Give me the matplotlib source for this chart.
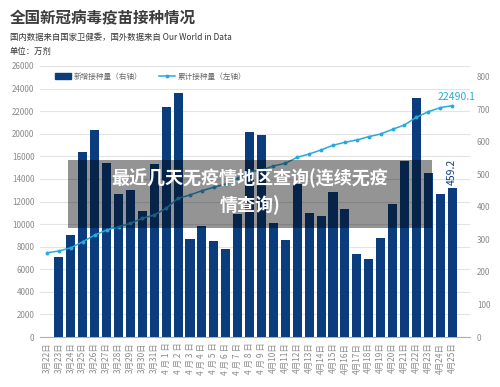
import numpy as np
import matplotlib
matplotlib.use("Agg")
import matplotlib.pyplot as plt
from matplotlib.patches import Rectangle
from matplotlib.lines import Line2D

plt.rcParams['font.family'] = ['Noto Sans CJK SC', 'DejaVu Sans']

dates = ["3月22日", "3月23日", "3月24日", "3月25日", "3月26日", "3月27日", "3月28日",
         "3月29日", "3月30日", "3月31日", "4 月 1 日", "4 月 2 日", "4 月 3 日", "4 月 4 日",
         "4 月 5 日", "4 月 6 日", "4 月 7 日", "4 月 8 日", "4 月 9 日", "4月10日", "4月11日",
         "4月12日", "4月13日", "4月14日", "4月15日", "4月16日", "4月17日", "4月18日",
         "4月19日", "4月20日", "4月21日", "4月22日", "4月23日", "4月24日", "4月25日"]

# 新增接种量（万剂，右轴）; 3月22日 无柱
daily = [np.nan, 246, 313, 569, 636, 535, 439, 451, 387, 532, 706, 749, 300, 341, 294,
         270, 378, 631, 621, 351, 297, 470, 382, 372, 446, 395, 256, 241, 303, 410,
         542, 734, 504, 439, 459.2]

# 累计接种量（万剂，左轴）
cumulative = [7466, 7617, 7910, 8441, 9034, 9477, 9770, 10071, 10514, 10806, 11400,
              12285, 12578, 12959, 13260, 13552, 14057, 14641, 14792, 15146, 15385,
              15917, 16420, 17128, 17960, 18492, 18900, 19484, 19960, 20396, 20778,
              21460, 21956, 22310, 22490.1]

# left axis labels as printed on the original chart (evenly spaced)
left_ticks = [0, 2000, 4000, 6000, 8000, 10000, 12000, 14000, 16000, 20000, 22000, 24000, 26000]
right_ticks = [0, 100, 200, 300, 400, 500, 600, 700, 800]

NAVY = "#0b3d7e"
BLUE = "#2aa9dc"
GRAY = "#8a8a8a"

idx = np.arange(len(left_ticks))
fwd = lambda v: np.interp(v, left_ticks, idx)
inv = lambda k: np.interp(k, idx, left_ticks)

fig = plt.figure(figsize=(5, 3.87), dpi=100)
ax = fig.add_axes([0.08, 0.129, 0.86, 0.7005])
axb = ax.twinx()
axl = ax.twinx()

x = np.arange(len(dates))

# grid + left ticks
ax.set_yscale("function", functions=(fwd, inv))
ax.set_ylim(0, 26000)
ax.set_yticks(left_ticks)
ax.set_yticklabels([str(t) for t in left_ticks])
ax.grid(axis="y", color="#e3e3e3", lw=0.8)
ax.tick_params(axis="y", length=0, labelsize=5.8, labelcolor=GRAY, pad=4)
ax.set_xlim(-0.59, 35.5)
ax.set_xticks(x)
ax.set_xticklabels(dates, rotation=90, fontsize=6, color=GRAY, va="top")
ax.tick_params(axis="x", length=0, pad=4)

# bars on right axis
axb.bar(x, daily, width=0.76, color=NAVY, zorder=2)
axb.set_ylim(0, 833)
axb.set_yticks(right_ticks)
axb.tick_params(axis="y", length=0, labelsize=5.8, labelcolor=GRAY, pad=5)
axb.text(x[-1], daily[-1] + 8, "459.2", rotation=90, ha="center", va="bottom",
         fontsize=7.5, color=NAVY)

# cumulative line on left scale
axl.set_yscale("function", functions=(fwd, inv))
axl.set_ylim(0, 26000)
axl.plot(x, cumulative, color=BLUE, lw=1.1, marker="o", ms=1.8, zorder=3)
axl.set_yticks([])
axl.text(x[-1] + 0.4, cumulative[-1] + 350, "22490.1", ha="center", va="bottom",
         fontsize=7.5, color=BLUE)

for a in (ax, axb, axl):
    for s in a.spines.values():
        s.set_visible(False)
ax.spines["bottom"].set_visible(True)
ax.spines["bottom"].set_color("#b0b0b0")
ax.spines["bottom"].set_linewidth(0.8)

handles = [Rectangle((0, 0), 1, 1, color=NAVY),
           Line2D([0], [0], color=BLUE, lw=1.1, marker="o", ms=1.8)]
axl.legend(handles, ["新增接种量（右轴）", "累计接种量（左轴）"], loc="upper left",
           bbox_to_anchor=(0.02, 1.0), ncol=2, frameon=False, fontsize=5.5,
           labelcolor="#666666", handlelength=2.0, handleheight=0.9,
           columnspacing=2.2, handletextpad=0.4)

fig.text(0.02, 0.953, "全国新冠病毒疫苗接种情况", fontsize=11.2, fontweight="bold",
         color="#3c3c3c", va="center")
fig.text(0.02, 0.902, "国内数据来自国家卫健委，国外数据来自 Our World in Data",
         fontsize=6, color="#333333", va="center")
fig.text(0.02, 0.868, "单位：万剂", fontsize=6, color="#333333", va="center")

# grey banner overlay
fig.patches.append(Rectangle((0.136, 0.411), 0.728, 0.176, transform=fig.transFigure,
                             facecolor="black", alpha=0.42, zorder=10))
fig.text(0.5, 0.54, "最近几天无疫情地区查询(连续无疫", fontsize=13, fontweight="bold",
         color="white", ha="center", va="center", zorder=11)
fig.text(0.5, 0.47, "情查询)", fontsize=13, fontweight="bold",
         color="white", ha="center", va="center", zorder=11)

fig.savefig("out.png", dpi=100)
